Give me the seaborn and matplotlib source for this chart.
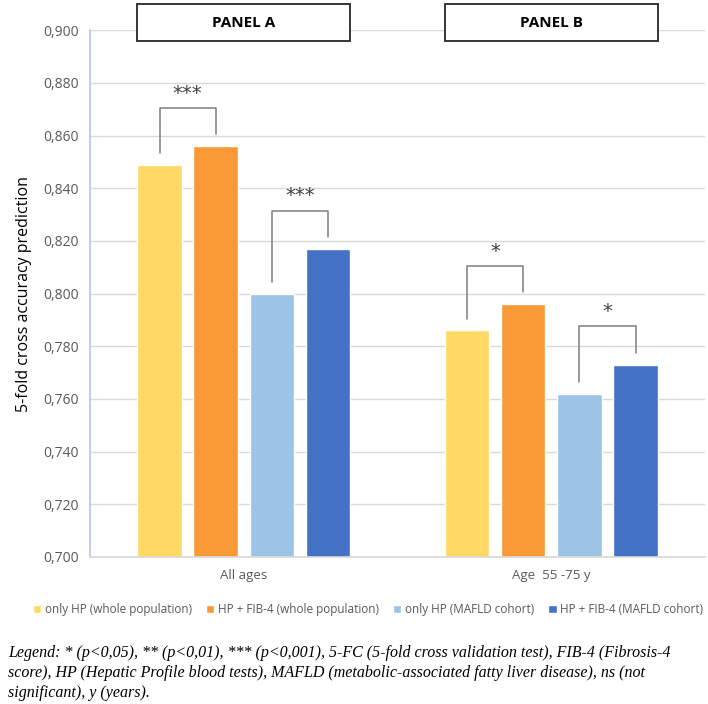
import pandas as pd
import seaborn as sns
import matplotlib.pyplot as plt
from matplotlib.patches import Rectangle
from matplotlib.ticker import FuncFormatter

# data
groups = ["All ages", "Age  55 -75 y"]
series = ["only HP (whole population)", "HP + FIB-4 (whole population)",
          "only HP (MAFLD cohort)", "HP + FIB-4 (MAFLD cohort)"]
values_all = [0.849, 0.856, 0.800, 0.817]
values_age = [0.786, 0.796, 0.762, 0.773]
panel_titles = ["PANEL A", "PANEL B"]
colors = ["#FFD966", "#FA9A36", "#9DC3E6", "#4472C4"]

# significance brackets: (group, left series, right series, label)
brackets = [(0, 0, 1, "***"), (0, 2, 3, "***"), (1, 0, 1, "*"), (1, 2, 3, "*")]

caption = ("Legend: * (p<0,05), ** (p<0,01), *** (p<0,001), 5-FC (5-fold cross validation test), FIB-4 (Fibrosis-4\n"
           "score), HP (Hepatic Profile blood tests), MAFLD (metabolic-associated fatty liver disease), ns (not\n"
           "significant), y (years).")

df = pd.DataFrame({
    "group": [g for g in groups for _ in series],
    "serie": series * len(groups),
    "valor": values_all + values_age,
})

sns.set_theme(style="white")
plt.rcParams["font.family"] = ["Open Sans", "DejaVu Sans"]

fig = plt.figure(figsize=(7.08, 7.04), dpi=100)
ax = fig.add_axes([0.127, 0.209, 0.869, 0.748])

sns.barplot(data=df, x="group", y="valor", hue="serie", order=groups,
            hue_order=series, palette=colors, width=0.73, gap=0.21,
            saturation=1, ax=ax, legend=True)

ax.set_ylim(0.700, 0.900)
ax.set_yticks([0.700 + 0.02 * i for i in range(11)])
ax.yaxis.set_major_formatter(FuncFormatter(lambda v, p: f"{v:.3f}".replace(".", ",")))
ax.grid(axis="y", color="#d9d9d9", linewidth=1)
ax.set_axisbelow(True)
for s in ["top", "right"]:
    ax.spines[s].set_visible(False)
ax.spines["left"].set_color("#b4c7e7")
ax.spines["left"].set_linewidth(1.2)
ax.spines["bottom"].set_color("#d9d9d9")
ax.tick_params(axis="y", labelsize=10, colors="#595959", length=0, pad=8)
ax.tick_params(axis="x", labelsize=9.5, colors="#595959", length=0, pad=9)
ax.set_xlabel("")
ax.set_ylabel("5-fold cross accuracy prediction", fontsize=11.5, color="black", labelpad=8)

# bars: patches come in hue order, each with one bar per group
bars = [p for p in ax.patches if p.get_height() > 0]
bar_map = {}
for si in range(len(series)):
    for gi in range(len(groups)):
        bar_map[(gi, si)] = bars[si * len(groups) + gi]

# panel boxes above each group
for gi, title in enumerate(panel_titles):
    x0 = bar_map[(gi, 0)].get_x()
    x1 = bar_map[(gi, 3)].get_x() + bar_map[(gi, 3)].get_width()
    box = Rectangle((x0, 0.8958), x1 - x0, 0.0141, facecolor="white",
                    edgecolor="#262626", linewidth=1.3, clip_on=False, zorder=5)
    ax.add_patch(box)
    ax.text((x0 + x1) / 2, 0.9028, title, ha="center", va="center",
            fontsize=11, fontweight="bold", color="black", zorder=6, clip_on=False)
ax.set_xlim(-0.5, 1.5)

# significance brackets
for gi, a, b, label in brackets:
    pa, pb = bar_map[(gi, a)], bar_map[(gi, b)]
    xa = pa.get_x() + pa.get_width() / 2
    xb = pb.get_x() + pb.get_width() / 2
    ya, yb = pa.get_height(), pb.get_height()
    top = max(ya, yb) + 0.0145
    ax.plot([xa, xa, xb, xb], [ya + 0.0045, top, top, yb + 0.0045],
            color="#7f7f7f", linewidth=1.1, zorder=4)
    ax.text((xa + xb) / 2, top + 0.002, label, ha="center", va="bottom",
            fontsize=14, color="#404040", family="DejaVu Sans")

handles, labels = ax.get_legend_handles_labels()
ax.get_legend().remove()
fig.legend(handles, labels, loc="center", bbox_to_anchor=(0.52, 0.134), ncol=4,
           frameon=False, fontsize=8.5, handlelength=0.7, handleheight=0.7,
           handletextpad=0.3, columnspacing=1.2, labelcolor="#595959")

fig.text(0.011, 0.044, caption, ha="left", va="center", fontsize=11.5,
         family="Liberation Serif", style="italic", color="black", linespacing=1.3)

fig.savefig("out.png", dpi=100)
plt.close(fig)
